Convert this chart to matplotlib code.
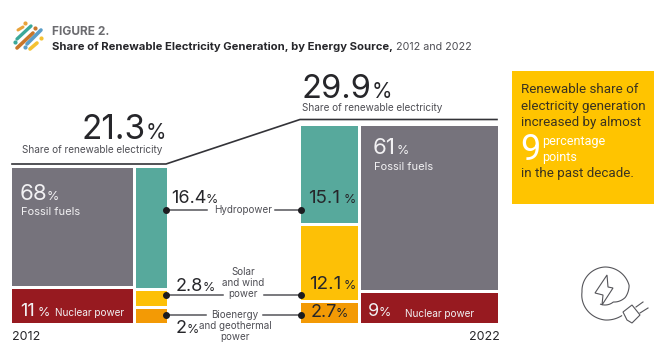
import matplotlib
matplotlib.use("Agg")
import matplotlib.pyplot as plt
import numpy as np
from matplotlib.patches import Polygon

# --- data ---
segments_2012 = ["Fossil fuels", "Nuclear power"]
shares_2012 = [68, 11]
renew_segments = ["Hydropower", "Solar and wind power", "Bioenergy and geothermal power"]
renew_2012 = [16.4, 2.8, 2]
renew_2022 = [15.1, 12.1, 2.7]
shares_2022 = [61, 9]
total_2012 = 21.3
total_2022 = 29.9
# block heights as drawn in the (schematic, not to scale) original
drawn_main_2012 = [118, 34]
drawn_renew_2012 = [120, 15, 14]
drawn_renew_2022 = [97, 74, 20]
drawn_main_2022 = [164, 30]

GREY = "#76737c"; RED = "#971a20"; TEAL = "#57a99c"; YEL = "#fdc006"; ORG = "#f39a05"
INK = "#26262a"; MID = "#4f4f55"
FONT = "Inter"

fig = plt.figure(figsize=(6.68, 3.63), dpi=100, facecolor="white")
ax = fig.add_axes([0, 0, 1, 1])
ax.set_xlim(0, 668); ax.set_ylim(363, 0); ax.axis("off")


def stack(x, w, top, heights, colors, gap=3):
    y = top
    for h, c in zip(heights, colors):
        ax.bar(x, h, width=w, bottom=y, align="edge", color=c, linewidth=0)
        y += h + gap


stack(12, 121, 168, drawn_main_2012, [GREY, RED])
stack(136, 31, 168, drawn_renew_2012, [TEAL, YEL, ORG])
stack(301, 57, 126, drawn_renew_2022, [TEAL, YEL, ORG])
stack(361, 137, 126, drawn_main_2022, [GREY, RED])


def t(x, y, s, size=8, color=MID, weight="normal", ha="left", va="baseline", family=FONT, **kw):
    return ax.text(x, y, s, fontsize=size, color=color, fontweight=weight, ha=ha, va=va,
                   family=family, **kw)


def num(x, y, val, size, color, px, psize=None):
    """number followed by a smaller percent sign; px = x of the sign"""
    t(x, y, f"{val}", size=size, color=color)
    t(px, y, "%", size=psize or size * 0.62, color=color)


# header
t(52, 35, "FIGURE 2.", size=8.6, color="#6c6c70", weight="bold")
t(52, 50, "Share of Renewable Electricity Generation, by Energy Source,", size=8.1, color=INK, weight="bold")
t(396, 50, "2012 and 2022", size=7.7, color=MID)

# totals
num(301, 98, total_2022, 23.5, INK, 372, 15)
t(302, 111, "Share of renewable electricity", size=7.2)
num(82, 139, total_2012, 24, INK, 146, 15)
t(22, 153, "Share of renewable electricity", size=7.2)
ax.plot([12, 166, 300, 497], [164, 164, 119.5, 119.5], color="#333338", lw=1.2, solid_joinstyle="miter")

# labels inside main blocks
W = "#f2f1f3"
num(20, 200, shares_2012[0], 16, W, 47, 9)
t(21, 215, segments_2012[0], size=8, color=W)
num(20, 316, shares_2012[1], 13, W, 38, 9)
t(55, 316, segments_2012[1], size=7.2, color=W)
num(373, 154, shares_2022[0], 16, W, 397, 9)
t(374, 170, segments_2012[0], size=8, color=W)
num(368, 316, shares_2022[1], 13, W, 379, 9)
t(405, 317, segments_2012[1], size=7.2, color=W)
t(12, 340, "2012", size=9, color=INK)
t(469, 340, "2022", size=9, color=INK)

# renewable figures
num(171, 203, renew_2012[0], 13, INK, 206, 9)
num(176, 291, renew_2012[1], 13, INK, 203, 9)
num(176, 333, renew_2012[2], 13, INK, 187, 9)
num(308, 203, renew_2022[0], 13.5, INK, 344, 9)
num(309, 289, renew_2022[1], 13.5, INK, 344, 9)
num(311, 317, renew_2022[2], 13, INK, 336, 9)

# connectors
for y, gaps in [(210, (207, 275)), (295, (223, 264)), (315, (206, 263))]:
    ax.plot([166, gaps[0]], [y, y], color="#55555a", lw=1.1)
    ax.plot([gaps[1], 301], [y, y], color="#55555a", lw=1.1)
    ax.plot([166, 301], [y, y], ls="none", marker="o", ms=4, color="#1c1c20")
t(243, 210, "Hydropower", size=7.1, ha="center", va="center")
for y, s in zip((272, 283, 294), ("Solar", "and wind", "power")):
    t(243, y, s, size=7.1, ha="center", va="center")
for y, s in zip((315, 326, 337), ("Bioenergy", "and geothermal", "power")):
    t(235, y, s, size=7.1, ha="center", va="center")

# call-out box
ax.bar(512, 133, width=142, bottom=71, align="edge", color="#ffc400", linewidth=0)
BT = "#3a3320"
for y, s in zip((93, 110, 126, 177),
                ("Renewable share of", "electricity generation", "increased by almost", "in the past decade.")):
    t(521, y, s, size=9.6, color=BT, family="Roboto")
t(520, 160, "9", size=26, color="white", family="Roboto")
t(542, 145, "percentage", size=9, color="white", family="Roboto")
t(542, 161, "points", size=9, color="white", family="Roboto")

# logo: short diagonal dashes and dots
dashes = [((18, 30), (23, 27), "#e8a33a", 2.2), ((17, 39), (31, 26), "#3aa89a", 2.4),
          ((17, 48), (33, 33), "#c9762a", 2.6), ((27, 44), (41, 30), "#5b9ec9", 2.6),
          ((30, 49), (37, 43), "#f5c232", 2.6)]
for (x0, y0), (x1, y1), c, lw in dashes:
    ax.plot([x0, x1], [y0, y1], color=c, lw=lw, solid_capstyle="round")
for x, y, c in [(25, 23, "#e8a33a"), (35, 28, "#c9762a"), (15, 42, "#3aa89a"),
                (25, 47, "#5b9ec9"), (41, 38, "#f5c232")]:
    ax.plot([x], [y], ls="none", marker="o", ms=2, color=c)

# plug icon
ic = "#55555a"
ang = np.radians(np.linspace(55, 55 + 360 - 5 + 60, 120))
ctrl_a = np.radians([55, 90, 180, 270, 345, 375, 410])
ctrl_r = [29, 28, 23, 25, 25, 21, 13]
rad = np.interp(ang, ctrl_a, ctrl_r)
ax.plot(605 + rad * np.cos(ang), 292 + rad * np.sin(ang), color=ic, lw=0.8)
ax.add_patch(Polygon([(607, 275), (595, 293), (603, 295), (602, 305), (613, 288), (608, 287)],
                     closed=True, fill=False, ec=ic, lw=0.8))
ax.add_patch(Polygon([(623, 312), (632, 305), (640, 315), (632, 323), (627, 320)],
                     closed=True, fill=False, ec=ic, lw=0.8))
ax.plot([636, 643], [307, 302], color=ic, lw=0.8)
ax.plot([640, 648], [313, 308], color=ic, lw=0.8)

fig.savefig("out.png", dpi=100, facecolor="white")
